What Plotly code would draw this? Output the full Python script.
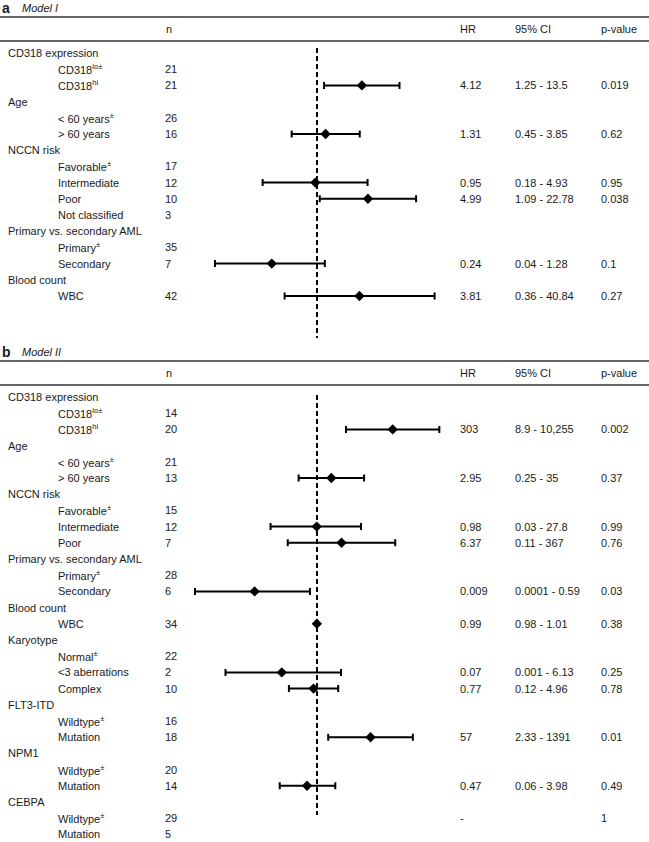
import plotly.graph_objects as go

W, H = 649, 842
ROW_H = 16.2        # px between table rows
PANEL_H = 344       # px offset of panel b from panel a
FIRST_ROW = 53      # px of first table row inside a panel
FONT = "Liberation Sans, Arial, sans-serif"
INK = "#1a1a1a"

# column x positions (px)
CAT_X, SUB_X, N_X, HR_X, CI_X, P_X = 8, 58, 165, 460, 515, 601

# ---------------- Model I ----------------
labels_a = ["CD318 expression", "CD318<sup>lo±</sup>", "CD318<sup>hi</sup>",
            "Age", "< 60 years<sup>±</sup>", "> 60 years",
            "NCCN risk", "Favorable<sup>±</sup>", "Intermediate", "Poor", "Not classified",
            "Primary vs. secondary AML", "Primary<sup>±</sup>", "Secondary",
            "Blood count", "WBC"]
indent_a = [0, 1, 1, 0, 1, 1, 0, 1, 1, 1, 1, 0, 1, 1, 0, 1]
n_a = ["", "21", "21", "", "26", "16", "", "17", "12", "10", "3", "", "35", "7", "", "42"]
hr_a = [None, None, 4.12, None, None, 1.31, None, None, 0.95, 4.99, None, None, None, 0.24, None, 3.81]
lo_a = [None, None, 1.25, None, None, 0.45, None, None, 0.18, 1.09, None, None, None, 0.04, None, 0.36]
hi_a = [None, None, 13.5, None, None, 3.85, None, None, 4.93, 22.78, None, None, None, 1.28, None, 40.84]
hr_txt_a = ["", "", "4.12", "", "", "1.31", "", "", "0.95", "4.99", "", "", "", "0.24", "", "3.81"]
ci_txt_a = ["", "", "1.25 - 13.5", "", "", "0.45 - 3.85", "", "", "0.18 - 4.93", "1.09 - 22.78",
            "", "", "", "0.04 - 1.28", "", "0.36 - 40.84"]
p_txt_a = ["", "", "0.019", "", "", "0.62", "", "", "0.95", "0.038", "", "", "", "0.1", "", "0.27"]

# ---------------- Model II ----------------
labels_b = ["CD318 expression", "CD318<sup>lo±</sup>", "CD318<sup>hi</sup>",
            "Age", "< 60 years<sup>±</sup>", "> 60 years",
            "NCCN risk", "Favorable<sup>±</sup>", "Intermediate", "Poor",
            "Primary vs. secondary AML", "Primary<sup>±</sup>", "Secondary",
            "Blood count", "WBC",
            "Karyotype", "Normal<sup>±</sup>", "<3 aberrations", "Complex",
            "FLT3-ITD", "Wildtype<sup>±</sup>", "Mutation",
            "NPM1", "Wildtype<sup>±</sup>", "Mutation",
            "CEBPA", "Wildtype<sup>±</sup>", "Mutation"]
indent_b = [0, 1, 1, 0, 1, 1, 0, 1, 1, 1, 0, 1, 1, 0, 1, 0, 1, 1, 1, 0, 1, 1, 0, 1, 1, 0, 1, 1]
n_b = ["", "14", "20", "", "21", "13", "", "15", "12", "7", "", "28", "6", "", "34",
       "", "22", "2", "10", "", "16", "18", "", "20", "14", "", "29", "5"]
hr_b = [None, None, 303, None, None, 2.95, None, None, 0.98, 6.37, None, None, 0.009, None, 0.99,
        None, None, 0.07, 0.77, None, None, 57, None, None, 0.47, None, None, None]
lo_b = [None, None, 8.9, None, None, 0.25, None, None, 0.03, 0.11, None, None, 0.0001, None, 0.98,
        None, None, 0.001, 0.12, None, None, 2.33, None, None, 0.06, None, None, None]
hi_b = [None, None, 10255, None, None, 35, None, None, 27.8, 367, None, None, 0.59, None, 1.01,
        None, None, 6.13, 4.96, None, None, 1391, None, None, 3.98, None, None, None]
hr_txt_b = ["", "", "303", "", "", "2.95", "", "", "0.98", "6.37", "", "", "0.009", "", "0.99",
            "", "", "0.07", "0.77", "", "", "57", "", "", "0.47", "", "-", ""]
ci_txt_b = ["", "", "8.9 - 10,255", "", "", "0.25 - 35", "", "", "0.03 - 27.8", "0.11 - 367",
            "", "", "0.0001 - 0.59", "", "0.98 - 1.01", "", "", "0.001 - 6.13", "0.12 - 4.96",
            "", "", "2.33 - 1391", "", "", "0.06 - 3.98", "", "", ""]
p_txt_b = ["", "", "0.002", "", "", "0.37", "", "", "0.99", "0.76", "", "", "0.03", "", "0.38",
           "", "", "0.25", "0.78", "", "", "0.01", "", "", "0.49", "", "1", ""]

headers = ["n", "HR", "95% CI", "p-value"]
header_x = [166, HR_X, CI_X, P_X]


def row(px):
    # convert a px offset inside a panel to row units
    return (px - FIRST_ROW) / ROW_H


fig = go.Figure()
annotations, shapes = [], []

panels = [
    dict(letter="a", title="Model I", labels=labels_a, indent=indent_a, n=n_a, hr=hr_a, lo=lo_a,
         hi=hi_a, hr_txt=hr_txt_a, ci_txt=ci_txt_a, p_txt=p_txt_a, px_dec=73.0,
         top=0, bottom=PANEL_H, dash=(48, 338)),
    dict(letter="b", title="Model II", labels=labels_b, indent=indent_b, n=n_b, hr=hr_b, lo=lo_b,
         hi=hi_b, hr_txt=hr_txt_b, ci_txt=ci_txt_b, p_txt=p_txt_b, px_dec=30.5,
         top=PANEL_H, bottom=H, dash=(51, 471)),
]

for k, P in enumerate(panels):
    sfx = "" if k == 0 else str(k + 1)
    xa, ya = "x" + sfx, "y" + sfx
    rows = list(range(len(P["labels"])))

    # log axis with HR = 1 at x = 317 px
    fig.update_layout(**{
        "xaxis" + sfx: dict(type="log", domain=[0, 1], anchor=ya, visible=False,
                            range=[-317 / P["px_dec"], (W - 317) / P["px_dec"]]),
        "yaxis" + sfx: dict(domain=[1 - P["bottom"] / H, 1 - P["top"] / H], anchor=xa,
                            visible=False, range=[row(P["bottom"] - P["top"]), row(0)]),
    })

    idx = [i for i in rows if P["hr"][i] is not None]
    hr = [P["hr"][i] for i in idx]
    fig.add_trace(go.Scatter(
        x=hr, y=idx, xaxis=xa, yaxis=ya, mode="markers", showlegend=False,
        marker=dict(symbol="diamond", size=8, color="black"),
        error_x=dict(type="data", symmetric=False,
                     array=[P["hi"][i] - P["hr"][i] for i in idx],
                     arrayminus=[P["hr"][i] - P["lo"][i] for i in idx],
                     thickness=2, width=3.5, color="black"),
        hoverinfo="skip"))

    # reference line at HR = 1
    shapes.append(dict(type="line", xref=xa, yref=ya, x0=1, x1=1,
                       y0=row(P["dash"][0]), y1=row(P["dash"][1]),
                       line=dict(color="black", width=2, dash="5px,3px")))
    # table rules
    for ypx in (17, 41):
        shapes.append(dict(type="line", xref="paper", yref=ya, x0=0, x1=1,
                           y0=row(ypx), y1=row(ypx), line=dict(color="#333", width=1.5)))

    def txt(xpx, y, s, size=11):
        # annotations carry ~2px of padding; pull them back so the glyphs start at xpx
        annotations.append(dict(xref="paper", yref=ya, x=(xpx - 2) / W, y=y, text=s,
                                showarrow=False, xanchor="left", yanchor="middle",
                                font=dict(family=FONT, size=size, color=INK)))

    txt(2, row(8), "<b>" + P["letter"] + "</b>", size=14)
    txt(22, row(8), "<i>" + P["title"] + "</i>", size=11)
    for h, hx in zip(headers, header_x):
        txt(hx, row(29), h)

    for i in rows:
        txt(SUB_X if P["indent"][i] else CAT_X, i, P["labels"][i])
        for xpx, col in ((N_X, P["n"]), (HR_X, P["hr_txt"]), (CI_X, P["ci_txt"]), (P_X, P["p_txt"])):
            if col[i]:
                txt(xpx, i, col[i])

fig.update_layout(width=W, height=H, margin=dict(l=0, r=0, t=0, b=0),
                  paper_bgcolor="white", plot_bgcolor="white",
                  annotations=annotations, shapes=shapes)

# the page body has a default 8px margin; drop it so the figure fills the window
fig.write_html("out.html", config={"displayModeBar": False},
               post_script="document.body.style.margin='0';")
